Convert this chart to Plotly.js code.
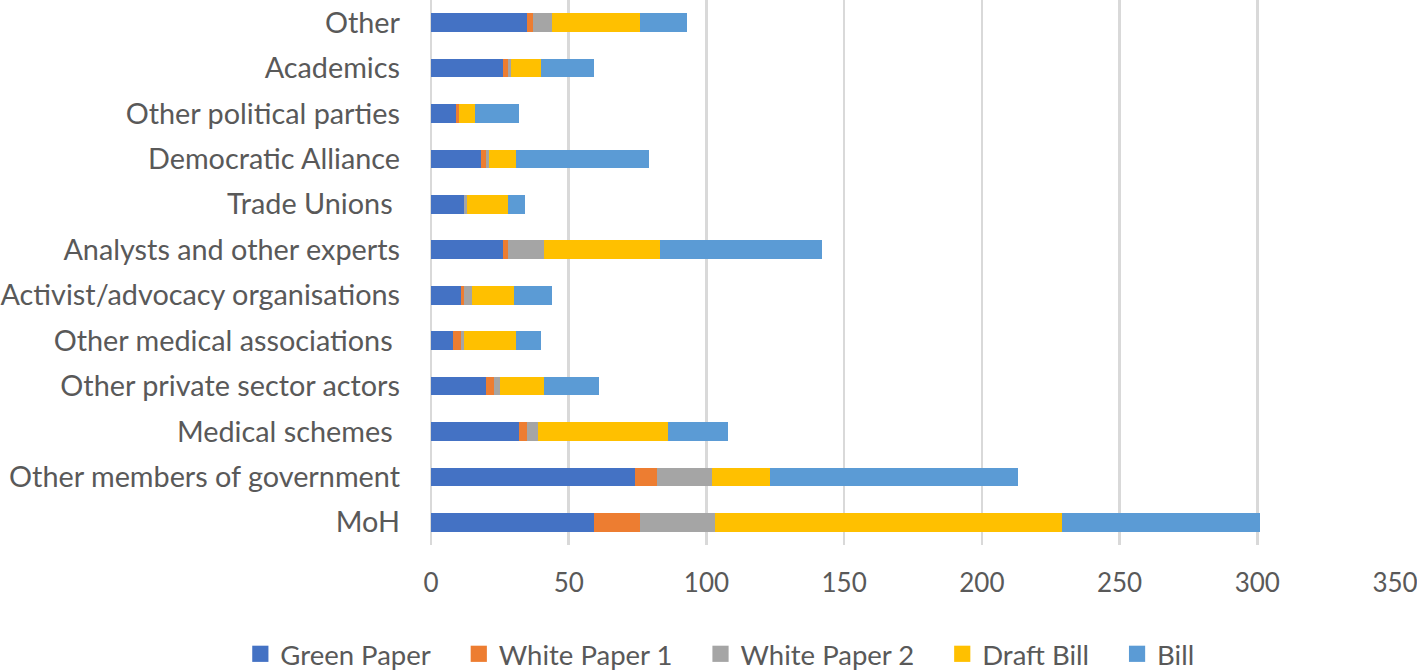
<!DOCTYPE html>
<html>
<head>
<meta charset="utf-8">
<script src="https://cdn.plot.ly/plotly-3.0.1.min.js"></script>
<style>html,body{margin:0;padding:0;background:#fff;}#chart{width:1417px;height:670px;}</style>
</head>
<body>
<div id="chart"></div>
<script>
const categories = ["MoH", "Other members of government", "Medical schemes\u00a0", "Other private sector actors", "Other medical associations\u00a0", "Activist/advocacy organisations", "Analysts and other experts", "Trade Unions\u00a0", "Democratic Alliance", "Other political parties", "Academics", "Other"];
const greenPaper  = [59, 74, 32, 20, 8, 11, 26, 12, 18, 9, 26, 35];
const whitePaper1 = [17, 8, 3, 3, 3, 1, 2, 0, 2, 1, 2, 2];
const whitePaper2 = [27, 20, 4, 2, 1, 3, 13, 1, 1, 0, 1, 7];
const draftBill   = [126, 21, 47, 16, 19, 15, 42, 15, 10, 6, 11, 32];
const bill        = [72, 90, 22, 20, 9, 14, 59, 6, 48, 16, 19, 17];
const seriesNames = ["Green Paper", "White Paper 1", "White Paper 2", "Draft Bill", "Bill"];
const seriesData = [greenPaper, whitePaper1, whitePaper2, draftBill, bill];
const colors = ["#4472C4", "#ED7D31", "#A5A5A5", "#FFC000", "#5B9BD5"];

const traces = seriesNames.map((n, i) => ({
  type: "bar", orientation: "h", name: n,
  y: categories, x: seriesData[i],
  marker: {color: colors[i], line: {width: 0}},
  hoverinfo: "x+name"
}));

const FONT = "Lato, 'Open Sans', sans-serif";
const layout = {
  width: 1417, height: 670,
  margin: {l: 431, r: 22, t: 0, b: 125},
  barmode: "stack",
  bargap: 0.59,
  paper_bgcolor: "#fff", plot_bgcolor: "#fff",
  font: {family: FONT, color: "#595959"},
  xaxis: {
    range: [0, 350], dtick: 50, tick0: 0,
    showgrid: true, gridcolor: "#d9d9d9", gridwidth: 2.5,
    zeroline: true, zerolinecolor: "#d9d9d9", zerolinewidth: 2.5,
    showline: false, ticks: "",
    tickfont: {size: 26, color: "#595959", family: FONT},
    ticklabelstandoff: 20,
    ticklabeloverflow: "allow",
    fixedrange: true
  },
  yaxis: {
    type: "category",
    categoryorder: "array", categoryarray: categories,
    showgrid: false, zeroline: false, showline: false, ticks: "",
    tickfont: {size: 28.8, color: "#595959", family: FONT},
    ticklabelstandoff: 30,
    fixedrange: true
  },
  showlegend: true,
  legend: {
    orientation: "h", traceorder: "normal",
    xref: "container", yref: "container",
    x: 0.508, xanchor: "center", y: 0.024, yanchor: "middle",
    font: {size: 27.5, color: "#595959", family: FONT},
    itemwidth: 30, itemsizing: "constant"
  }
};

Plotly.newPlot("chart", traces, layout, {displayModeBar: false, staticPlot: true}).then(() => {
  document.querySelectorAll("#chart .legend .legendpoints path").forEach(p => {
    const t = p.getAttribute("transform") || "";
    p.setAttribute("transform", t + " scale(1.35)");
  });
  const extra = 23;
  const items = document.querySelectorAll("#chart .legend .traces");
  const n = items.length;
  items.forEach((g, i) => {
    const m = /translate\(\s*([-\d.e]+)[\s,]*([-\d.e]+)?\s*\)/.exec(g.getAttribute("transform") || "");
    if (!m) return;
    const x = +m[1], y = +(m[2] || 0);
    g.setAttribute("transform", "translate(" + (x + i * extra - (n - 1) * extra / 2) + "," + y + ")");
  });
  document.querySelectorAll("#chart .legend .scrollbox, #chart .legend").forEach(s => s.removeAttribute("clip-path"));
});
</script>
</body>
</html>
